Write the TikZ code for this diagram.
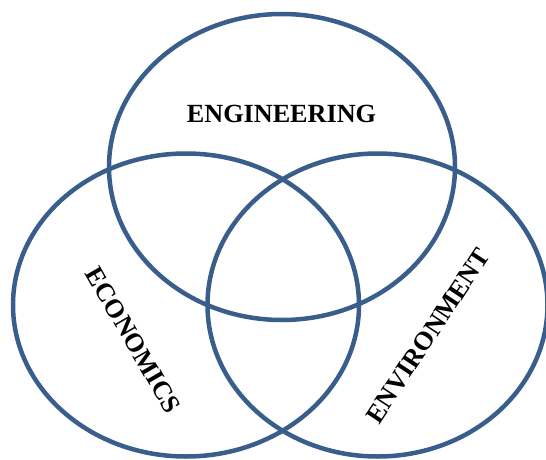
\documentclass[tikz,border=0pt]{standalone}
\usepackage{fontspec}
\setmainfont{Liberation Serif}
\definecolor{ringblue}{RGB}{58,94,139}
\tikzset{
  ring/.style={draw=ringblue, line width=4.5pt},
  label/.style={font=\fontsize{26.2pt}{30pt}\selectfont\bfseries, inner sep=0pt, text=black}
}
\begin{document}
\begin{tikzpicture}[x=1pt,y=1pt]
\useasboundingbox (0,0) rectangle (546,-460);
\clip (0,0) rectangle (546,-460);
\draw[ring] (282,-167) ellipse [x radius=173, y radius=153];
\draw[ring] (186,-305) ellipse [x radius=173, y radius=151.5];
\draw[ring] (377.5,-305) ellipse [x radius=170, y radius=151.5];
\node[label] (eng) at (281.5,-113.5) {ENGINEERING};
\node[label, rotate=-60] (eco) at (133.3,-340) {ECONOMICS};
\node[label, rotate=56.5] (env) at (428,-336) {ENVIRONMENT};
\end{tikzpicture}
\end{document}
